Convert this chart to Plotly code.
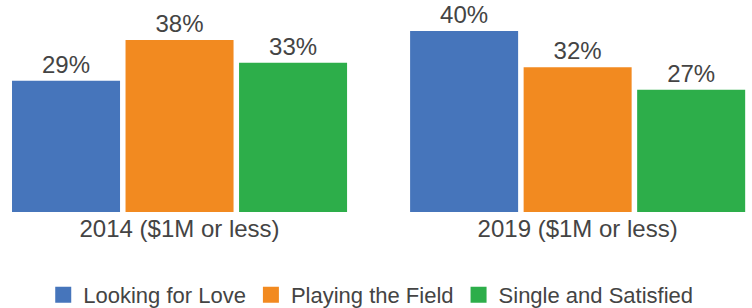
import plotly.graph_objects as go

categories = ["2014 ($1M or less)", "2019 ($1M or less)"]
series_names = ["Looking for Love", "Playing the Field", "Single and Satisfied"]
looking_for_love = [29, 40]
playing_the_field = [38, 32]
single_and_satisfied = [33, 27]
colors = ["#4675BB", "#F28A20", "#2DAE4A"]

values = [looking_for_love, playing_the_field, single_and_satisfied]
font = "Liberation Sans, Arial, sans-serif"
txt = "#444444"

fig = go.Figure()
for name, vals, col in zip(series_names, values, colors):
    fig.add_trace(go.Bar(
        x=categories, y=vals, name=name, marker_color=col, marker_line_width=0,
        text=[f"{v}%" for v in vals], textposition="outside",
        textfont=dict(size=24, color=txt, family=font), cliponaxis=False,
        showlegend=False, hoverinfo="skip",
    ))
    fig.add_trace(go.Scatter(
        x=[None], y=[None], mode="markers", name=name,
        marker=dict(symbol="square", size=18, color=col),
    ))

fig.update_layout(
    width=752, height=308,
    margin=dict(l=0, r=0, t=10, b=96, autoexpand=False),
    paper_bgcolor="white", plot_bgcolor="white",
    barmode="group", bargap=0.1445, bargroupgap=0.0485,
    font=dict(family=font, size=22, color=txt),
    xaxis=dict(type="category", range=[-0.451, 1.438], showgrid=False, showline=False,
               ticks="", tickfont=dict(size=24, color=txt), zeroline=False),
    yaxis=dict(range=[0, 44.64], visible=False),
    legend=dict(orientation="h", x=0.493, xanchor="center", y=-0.411, yanchor="middle",
                font=dict(size=22, color=txt), itemsizing="trace", traceorder="normal"),
)

fig.write_html("out.html", config={"displayModeBar": False},
               post_script="document.body.style.margin='0';")
